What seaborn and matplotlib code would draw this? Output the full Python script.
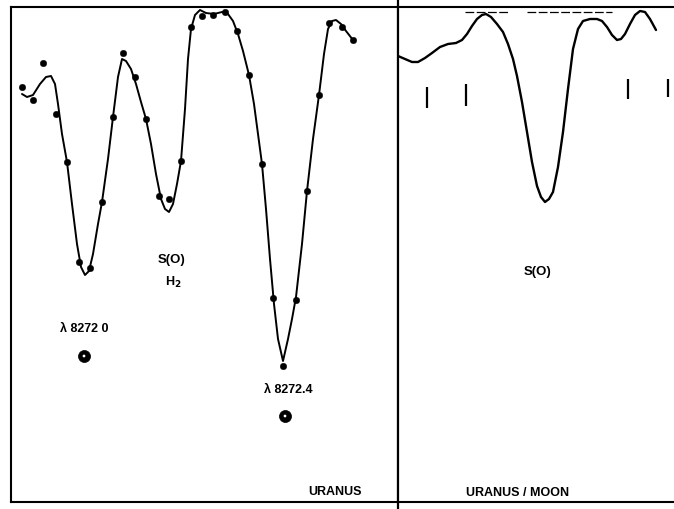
import numpy as np
import pandas as pd
import seaborn as sns
import matplotlib
matplotlib.use("Agg")
import matplotlib.pyplot as plt
from matplotlib.lines import Line2D

sns.set_style("white")
plt.rcParams['font.family'] = ['Liberation Sans', 'DejaVu Sans']
plt.rcParams['text.color'] = 'black'

# ---------------- data (relative position, relative intensity) ----------------
# Left panel: Uranus measured points
uranus_pts_x = [11, 22, 32, 45, 56, 68, 79, 91, 102, 112, 124, 135, 148, 158, 170,
                180, 191, 202, 214, 226, 238, 251, 262, 272, 285, 296, 308, 318, 331, 342]
uranus_pts_y = [415, 402, 439, 388, 340, 240, 234, 300, 385, 449, 425, 383, 306, 303, 341,
                475, 486, 487, 490, 471, 427, 338, 204, 136, 202, 311, 407, 479, 475, 462]

# Left panel: fitted curve
uranus_curve_x = [11, 16, 22, 29, 35, 40, 44, 47, 51, 56, 61, 66, 70, 74, 78, 82, 87, 91,
                  97, 102, 107, 111, 115, 120, 125, 130, 135, 140, 145, 150, 154, 158, 162,
                  166, 170, 174, 177, 180, 184, 189, 195, 203, 211, 217, 222, 227, 232, 238,
                  243, 247, 251, 255, 259, 263, 267, 272, 277, 281, 285, 291, 296, 302, 308,
                  313, 317, 321, 325, 330, 335, 342]
uranus_curve_y = [408, 405, 407, 418, 425, 426, 418, 398, 368, 340, 298, 258, 235, 227, 231,
                  248, 278, 300, 343, 385, 425, 443, 441, 433, 418, 400, 383, 358, 328, 303,
                  293, 290, 298, 318, 341, 393, 443, 473, 487, 492, 489, 488, 490, 488, 481,
                  468, 451, 427, 398, 368, 338, 293, 243, 198, 163, 141, 163, 183, 205, 258,
                  311, 363, 407, 448, 473, 481, 482, 478, 471, 462]

# Left panel: laboratory wavelength markers
marker_x = [73, 274]
marker_y = [146, 86]
marker_labels = ["λ 8272 0", "λ 8272.4"]
marker_label_y = [174, 113]
marker_label_x = [73, 277]

# Right panel: Uranus / Moon ratio curve
ratio_x = [0, 7, 14, 20, 27, 34, 42, 50, 58, 64, 69, 74, 79, 84, 88, 93, 99, 105, 110, 115,
           119, 124, 129, 134, 139, 143, 147, 151, 155, 160, 165, 170, 175, 180, 185, 192,
           199, 204, 209, 214, 219, 223, 227, 232, 237, 242, 247, 252, 258]
ratio_y = [446, 443, 440, 440, 444, 449, 455, 458, 459, 462, 468, 476, 483, 487, 488, 485,
           478, 470, 458, 443, 426, 400, 370, 340, 316, 305, 300, 303, 310, 335, 370, 413,
           453, 473, 481, 483, 483, 481, 475, 467, 462, 463, 468, 478, 487, 491, 490, 483, 472]

# Right panel: vertical reference bars
bar_x = [29, 68, 230, 270]
bar_top = [415, 418, 423, 423]
bar_bottom = [394, 396, 403, 405]

# Right panel: continuum (dashed) segments
cont_x0 = [67, 129]
cont_x1 = [112, 214]
cont_y = 490

# ---------------- figure ----------------
W, H = 674, 510
fig = plt.figure(figsize=(W / 100, H / 100), dpi=100)
fig.patch.set_facecolor("white")

x_left, x_div, x_right = 11, 398, 674
y_top, y_bot = 8, 503
bottom = (H - y_bot) / H
height = (y_bot - y_top) / H

axL = fig.add_axes([x_left / W, bottom, (x_div - x_left) / W, height])
axR = fig.add_axes([x_div / W, bottom, (x_right - x_div) / W, height])

for ax, xmax in ((axL, x_div - x_left), (axR, x_right - x_div)):
    ax.set_xlim(0, xmax)
    ax.set_ylim(0, y_bot - y_top)
    ax.set_xticks([])
    ax.set_yticks([])
    ax.set_facecolor("white")
    for s in ax.spines.values():
        s.set_linewidth(1.5)
        s.set_color("black")
axR.spines["right"].set_visible(False)
axR.spines["left"].set_visible(False)

# Left panel
df_curve = pd.DataFrame({"x": uranus_curve_x, "y": uranus_curve_y})
sns.lineplot(data=df_curve, x="x", y="y", ax=axL, sort=False, estimator=None,
             color="black", linewidth=1.4)
df_pts = pd.DataFrame({"x": uranus_pts_x, "y": uranus_pts_y})
sns.scatterplot(data=df_pts, x="x", y="y", ax=axL, color="black", s=22,
                edgecolor="black", linewidth=0.3, zorder=3)

df_mark = pd.DataFrame({"x": marker_x, "y": marker_y})
sns.scatterplot(data=df_mark, x="x", y="y", ax=axL, color="black", s=75,
                edgecolor="black", linewidth=0.5, zorder=3)
sns.scatterplot(data=df_mark, x="x", y="y", ax=axL, color="white", s=4,
                edgecolor="none", zorder=4)

fs = 9
for lx, ly, lab in zip(marker_label_x, marker_label_y, marker_labels):
    axL.text(lx, ly, lab, ha="center", va="center", fontsize=fs, fontweight="bold",
             color="black")
axL.text(161, 243, "S(O)", ha="center", va="center", fontsize=9.5, fontweight="bold",
         color="black")
axL.text(162, 221, "H$_\\mathbf{2}$", ha="center", va="center", fontsize=fs,
         fontweight="bold", color="black")
axL.text(324, 11, "URANUS", ha="center", va="center", fontsize=fs, fontweight="bold",
         color="black")

# Right panel
df_ratio = pd.DataFrame({"x": ratio_x, "y": ratio_y})
sns.lineplot(data=df_ratio, x="x", y="y", ax=axR, sort=False, estimator=None,
             color="black", linewidth=1.7)
axR.vlines(bar_x, bar_bottom, bar_top, color="black", linewidth=1.6)
axR.hlines([cont_y] * len(cont_x0), cont_x0, cont_x1, color="black",
           linewidth=0.9, linestyles=(0, (7, 2)))
axR.text(140, 231, "S(O)", ha="center", va="center", fontsize=9.5, fontweight="bold",
         color="black")
axR.text(120, 10, "URANUS / MOON", ha="center", va="center", fontsize=fs,
         fontweight="bold", color="black")
for ax in (axL, axR):
    ax.set_xlabel("")
    ax.set_ylabel("")
    if ax.get_legend():
        ax.get_legend().remove()

# Divider line extending through the whole height
fig.add_artist(Line2D([x_div / W, x_div / W], [0, 1], color="black", linewidth=1.6,
                      transform=fig.transFigure))

fig.savefig("out.png", dpi=100, facecolor="white")
